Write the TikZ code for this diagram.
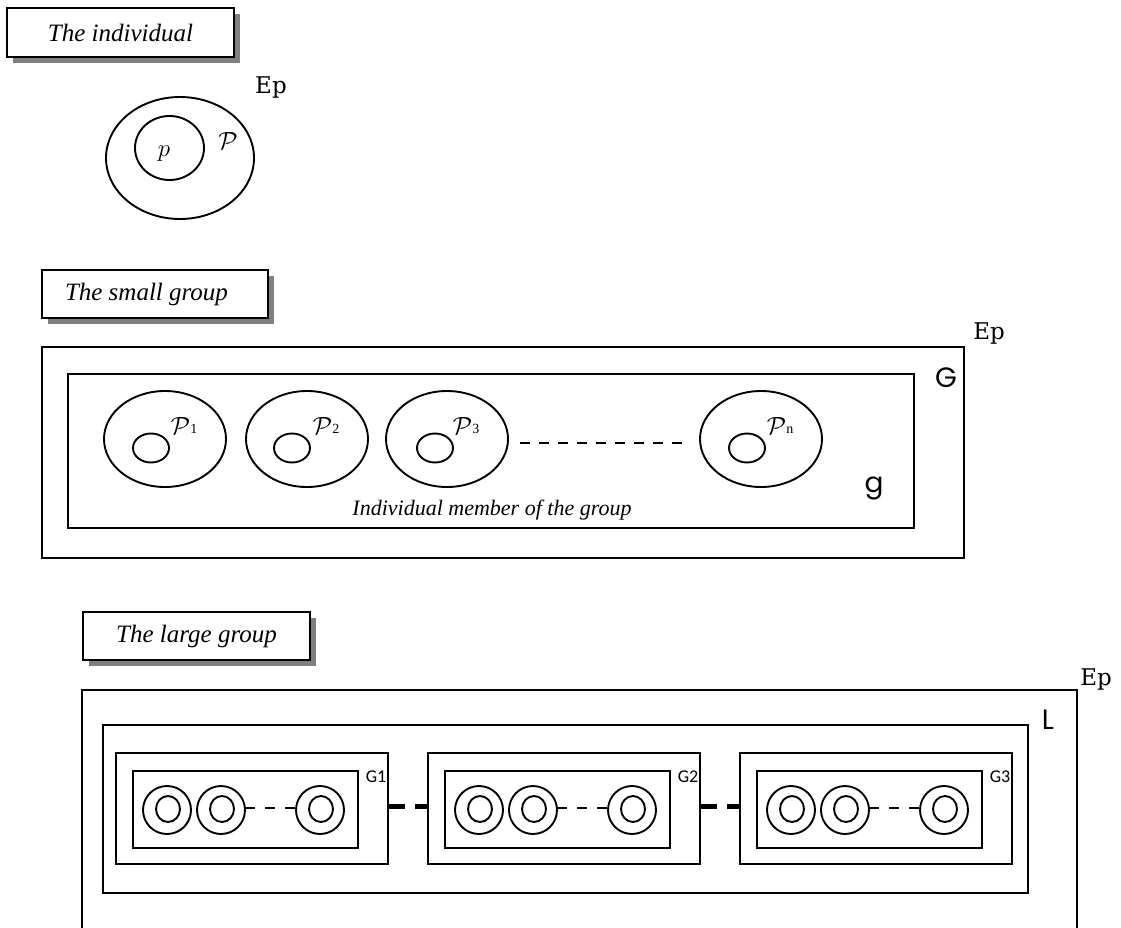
\documentclass[tikz,border=0pt]{standalone}
\usepackage{fontspec}
\setmainfont{Liberation Serif}
\newfontfamily\epfont{DejaVu Serif}
\newfontfamily\kfont{Poppins}
\newfontfamily\lblfont{Carlito}
\usetikzlibrary{shapes.geometric,shadows}
\tikzset{
  title/.style={draw, fill=white, inner sep=0pt, outer sep=0pt,
    font=\fontsize{25}{25}\selectfont\itshape,
    drop shadow={shadow xshift=6pt, shadow yshift=-6pt, fill=black!50, opacity=1}},
  ell/.style={draw, ellipse, inner sep=0pt, outer sep=0pt},
  box/.style={draw, rectangle, inner sep=0pt, outer sep=0pt},
  ep/.style={font=\epfont\fontsize{23}{23}\selectfont, inner sep=0pt},
  klbl/.style={font=\kfont\fontsize{28}{28}\selectfont, inner sep=0pt},
  plbl/.style={inner sep=0pt},
  glbl/.style={font=\lblfont\fontsize{18}{18}\selectfont, inner sep=0pt},
  dashline/.style={line width=2.4pt, dash pattern=on 10pt off 9pt},
  sdash/.style={line width=2pt, dash pattern=on 10pt off 10pt},
  tdash/.style={line width=4.5pt, dash pattern=on 17pt off 10pt}
}
\newcommand{\Pcal}[1]{\fontsize{25}{25}\selectfont$\mathcal{P}$\fontsize{14}{14}\selectfont\raisebox{1pt}{#1}}
\begin{document}
\begin{tikzpicture}[x=1pt,y=-1pt,line width=1.9pt]
\useasboundingbox (0,0) rectangle (1121,928);
\clip (0,0) rectangle (1121,928);

% ---------- The individual ----------
\node[title, minimum width=227pt, minimum height=49pt] (t1) at (120.5,32.5) {The individual};
\node[ell, minimum width=148pt, minimum height=122pt] (pbig) at (180,158) {};
\node[ell, minimum width=69pt, minimum height=64pt] (psmall) at (169.5,148) {};
\node[plbl] (plow) at (164,154) {\fontsize{24}{24}\selectfont$p$};
\node[plbl] (pup) at (228,141) {\fontsize{32}{32}\selectfont$\mathcal{P}$};
\node[ep] (ep1) at (271,88) {Ep};

% ---------- The small group ----------
\node[title, minimum width=226pt, minimum height=48pt] (t2) at (155,294) {\hspace*{-17pt}The small group};
\node[box, minimum width=922pt, minimum height=211pt] (Gout) at (503,452.5) {};
\node[box, minimum width=846pt, minimum height=154pt] (gin) at (491,451) {};
\foreach \n/\cx/\ix/\lab in {1/165/151/1, 2/307/292/2, 3/447/435/3, n/761/747/n}{
  \node[ell, minimum width=122pt, minimum height=96pt] (e\n) at (\cx,439) {};
  \node[ell, minimum width=36pt, minimum height=29pt] (s\n) at (\ix,448) {};
  \node[plbl, anchor=west] (l\n) at (\cx+5,426) {\Pcal{\lab}};
}
\draw[dashline, shorten <=12pt, shorten >=18pt] ([yshift=-4pt]e3.east) -- ([yshift=-4pt]en.west);
\node[font=\fontsize{22}{22}\selectfont\itshape, anchor=base, inner sep=0pt] (memb) at (492,515) {Individual member of the group};
\node[klbl] (Glbl) at (946,378) {G};
\node[klbl] (glbl) at (874,488) {g};
\node[ep] (ep2) at (989,334) {Ep};

% ---------- The large group ----------
\node[title, minimum width=227pt, minimum height=48pt] (t3) at (196.5,636) {The large group};
\node[box, minimum width=995pt, minimum height=310pt] (Lout) at (579.5,845) {};
\node[box, minimum width=925pt, minimum height=168pt] (Lin) at (565.5,809) {};
\foreach \k/\xi in {1/133, 2/445, 3/757}{
  \node[box, minimum width=272pt, minimum height=111pt] (go\k) at (\xi+119,808.5) {};
  \node[box, minimum width=225pt, minimum height=77pt] (gi\k) at (\xi+112.5,809.5) {};
  \foreach \j/\off in {1/34, 2/88, 3/187}{
    \node[ell, minimum width=48pt, minimum height=48pt] (c\k\j) at (\xi+\off,810) {};
    \node[ell, minimum width=24pt, minimum height=26pt] (ci\k\j) at (\xi+\off+1,809) {};
  }
  \draw[sdash] ([yshift=2pt]c\k2.east) -- ([yshift=2pt]c\k3.west);
  \node[glbl] (gl\k) at (\xi+243,777) {G\k};
}
\draw[tdash] ([yshift=2pt]go1.east) -- ([yshift=2pt]go2.west);
\draw[tdash] ([yshift=2pt]go2.east) -- ([yshift=2pt]go3.west);
\node[klbl] (Llbl) at (1048,720) {L};
\node[ep] (ep3) at (1096,680) {Ep};
\end{tikzpicture}
\end{document}
